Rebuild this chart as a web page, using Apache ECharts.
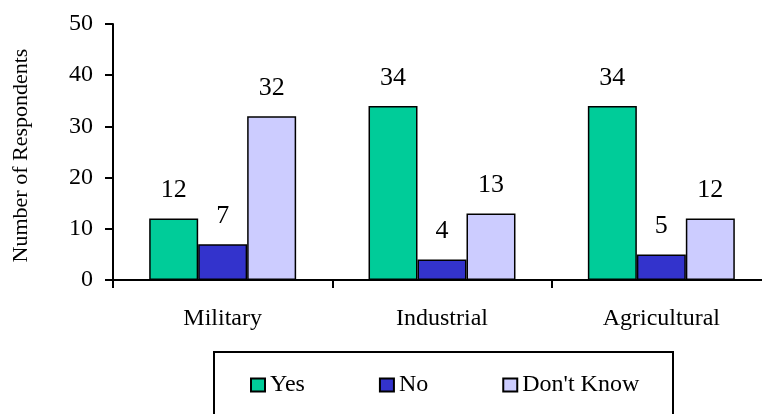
<!DOCTYPE html>
<html>
<head>
<meta charset="utf-8">
<script src="https://cdn.jsdelivr.net/npm/echarts@6/dist/echarts.min.js"></script>
<style>html,body{margin:0;padding:0;background:#fff}#c{width:762px;height:414px}</style>
</head>
<body>
<div id="c"></div>
<script>
var categories = ['Military', 'Industrial', 'Agricultural'];
var yesValues = [12, 34, 34];
var noValues = [7, 4, 5];
var dontKnowValues = [32, 13, 12];
var seriesNames = ['Yes', 'No', "Don't Know"];
var yTicks = { min: 0, max: 50, interval: 10 };

var FONT = '"Liberation Serif", "Times New Roman", serif';
var colors = ['#00CC99', '#3333CC', '#CCCCFF'];
var data = [yesValues, noValues, dontKnowValues];

var chart = echarts.init(document.getElementById('c'), null, { renderer: 'canvas' });
chart.setOption({
  animation: false,
  backgroundColor: '#ffffff',
  grid: { left: 113, top: 24, width: 658, height: 256, containLabel: false, outerBoundsMode: 'none' },
  xAxis: {
    type: 'category',
    data: categories,
    axisLine: { show: true, lineStyle: { color: '#000', width: 2 } },
    axisTick: { show: true, length: 8, lineStyle: { color: '#000', width: 2 } },
    axisLabel: { color: '#000', fontFamily: FONT, fontSize: 24, margin: 27 },
    splitLine: { show: false }
  },
  yAxis: {
    type: 'value',
    min: yTicks.min, max: yTicks.max, interval: yTicks.interval,
    name: 'Number of Respondents',
    nameLocation: 'middle',
    nameGap: 81,
    nameRotate: 90,
    nameTextStyle: { color: '#000', fontFamily: FONT, fontSize: 22, padding: [0, 7, 0, 0] },
    axisLine: { show: true, lineStyle: { color: '#000', width: 2 } },
    axisTick: { show: true, length: 8, lineStyle: { color: '#000', width: 2 } },
    axisLabel: { color: '#000', fontFamily: FONT, fontSize: 24, margin: 20 },
    splitLine: { show: false }
  },
  legend: {
    left: 250, top: 373,
    padding: 0,
    itemWidth: 14, itemHeight: 13,
    itemGap: 74,
    icon: 'rect',
    textStyle: { color: '#000', fontFamily: FONT, fontSize: 24 },
    data: seriesNames
  },
  graphic: [{
    type: 'rect',
    shape: { x: 214, y: 352, width: 459, height: 80 },
    style: { fill: 'none', stroke: '#000', lineWidth: 2 },
    silent: true
  }],
  series: seriesNames.map(function (name, i) {
    return {
      name: name,
      type: 'bar',
      data: data[i],
      barGap: '0%',
      barCategoryGap: '33%',
      itemStyle: { color: colors[i], borderColor: '#000', borderWidth: 1.5 },
      label: {
        show: true, position: 'top', distance: 15,
        color: '#000', fontFamily: FONT, fontSize: 26
      }
    };
  })
});
</script>
</body>
</html>
